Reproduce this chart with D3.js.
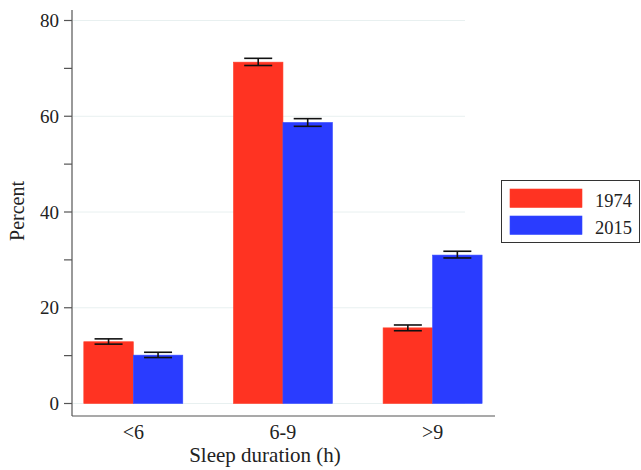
<!DOCTYPE html>
<html>
<head>
<meta charset="utf-8">
<script src="https://cdn.jsdelivr.net/npm/d3@7"></script>
<style>
  html, body { margin: 0; padding: 0; background: #fff; }
  svg { display: block; font-family: "Liberation Serif", "Times New Roman", serif; }
</style>
</head>
<body>
<script>
const categories = ["<6", "6-9", ">9"];
const seriesNames = ["1974", "2015"];
const colors = ["#ff3322", "#2a3cff"];
const values1974 = [12.9, 71.3, 15.8];
const values2015 = [10.1, 58.7, 31.0];
const lower1974 = [12.4, 70.6, 15.2];
const upper1974 = [13.5, 72.1, 16.4];
const lower2015 = [9.6, 57.9, 30.4];
const upper2015 = [10.7, 59.5, 31.8];
const majorTicks = [0, 20, 40, 60, 80];
const minorTicks = [10, 30, 50, 70];

const W = 641, H = 470;
const svg = d3.select("body").append("svg").attr("width", W).attr("height", H);

const y = d3.scaleLinear().domain([0, 80]).range([403.5, 20.5]);
const x = d3.scalePoint().domain(categories).range([133.3, 432.6]);
const xs = d3.scaleBand().domain(seriesNames).range([-49.5, 49.5]).padding(0);

const plotLeft = 72, plotRight = 495, axisBottom = 416, axisTop = 10;

// gridlines
svg.append("g").selectAll("line").data(majorTicks).join("line")
  .attr("x1", plotLeft + 1).attr("x2", plotRight - 30)
  .attr("y1", d => y(d)).attr("y2", d => y(d))
  .attr("stroke", "#e8f0f0").attr("stroke-width", 1);

// bars
const series = [
  { name: "1974", vals: values1974, lo: lower1974, hi: upper1974, color: colors[0] },
  { name: "2015", vals: values2015, lo: lower2015, hi: upper2015, color: colors[1] }
];
series.forEach(s => {
  const g = svg.append("g");
  g.selectAll("rect").data(categories).join("rect")
    .attr("x", (c) => x(c) + xs(s.name))
    .attr("width", xs.bandwidth())
    .attr("y", (c, i) => y(s.vals[i]))
    .attr("height", (c, i) => y(0) - y(s.vals[i]))
    .attr("fill", s.color)
    .attr("stroke", d3.color(s.color).brighter(0.6))
    .attr("stroke-width", 0.6);
});

// error bars
series.forEach(s => {
  const g = svg.append("g").attr("stroke", "#111").attr("stroke-width", 1.6);
  categories.forEach((c, i) => {
    const cx = x(c) + xs(s.name) + xs.bandwidth() / 2;
    g.append("line").attr("x1", cx).attr("x2", cx).attr("y1", y(s.hi[i])).attr("y2", y(s.lo[i]));
    g.append("line").attr("x1", cx - 14).attr("x2", cx + 14).attr("y1", y(s.hi[i])).attr("y2", y(s.hi[i]));
    g.append("line").attr("x1", cx - 14).attr("x2", cx + 14).attr("y1", y(s.lo[i])).attr("y2", y(s.lo[i]));
  });
});

// y axis
const ya = svg.append("g");
ya.append("line").attr("x1", plotLeft).attr("x2", plotLeft).attr("y1", axisTop).attr("y2", axisBottom)
  .attr("stroke", "#555").attr("stroke-width", 1.2);
ya.selectAll("line.tick").data(majorTicks.concat(minorTicks)).join("line").attr("class", "tick")
  .attr("x1", plotLeft - 8).attr("x2", plotLeft).attr("y1", d => y(d)).attr("y2", d => y(d))
  .attr("stroke", "#555").attr("stroke-width", 1.2);
ya.selectAll("text").data(majorTicks).join("text")
  .attr("x", plotLeft - 13).attr("y", d => y(d)).attr("dy", "0.35em")
  .attr("text-anchor", "end").attr("font-size", 19).attr("fill", "#222").text(d => d);

// x axis
const xa = svg.append("g");
xa.append("line").attr("x1", plotLeft).attr("x2", plotRight).attr("y1", axisBottom).attr("y2", axisBottom)
  .attr("stroke", "#555").attr("stroke-width", 1.2);
xa.selectAll("text").data(categories).join("text")
  .attr("x", d => x(d)).attr("y", 439)
  .attr("text-anchor", "middle").attr("font-size", 20).attr("fill", "#222").text(d => d);

// axis titles
svg.append("text").attr("x", 265).attr("y", 462).attr("text-anchor", "middle")
  .attr("font-size", 21).attr("fill", "#222").text("Sleep duration (h)");
svg.append("text").attr("transform", "translate(24,211) rotate(-90)").attr("text-anchor", "middle")
  .attr("font-size", 20).attr("fill", "#222").text("Percent");

// legend
const lg = svg.append("g");
lg.append("rect").attr("x", 501.5).attr("y", 180.5).attr("width", 138).attr("height", 62)
  .attr("fill", "#fff").attr("stroke", "#333").attr("stroke-width", 1);
series.forEach((s, i) => {
  const yy = 189 + i * 27;
  lg.append("rect").attr("x", 510).attr("y", yy).attr("width", 72).attr("height", 18.5)
    .attr("fill", s.color).attr("stroke", d3.color(s.color).brighter(0.6)).attr("stroke-width", 0.6);
  lg.append("text").attr("x", 595).attr("y", yy + 17.5)
    .attr("font-size", 18.5).attr("fill", "#222").text(s.name);
});
</script>
</body>
</html>
